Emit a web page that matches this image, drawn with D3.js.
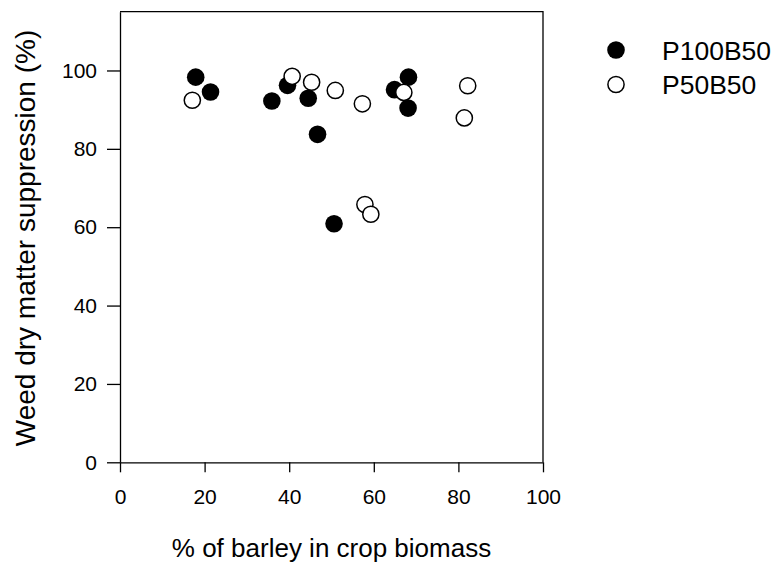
<html>
<head>
<style>
  body { margin: 0; background: #fff; }
  text { font-family: "Liberation Sans", Arial, sans-serif; fill: #000; }
  .axis path, .axis line { stroke: #000; stroke-width: 1.3px; }
</style>
</head>
<body>
<svg width="774" height="572"></svg>
<script src="https://d3js.org/d3.v7.min.js"></script>
<script>
// data
var p100x = [17.9, 21.4, 35.9, 39.6, 44.5, 46.7, 50.6, 64.9, 68.2, 68.1];
var p100y = [98.3, 94.5, 92.2, 96.2, 92.9, 83.7, 60.9, 95.1, 98.3, 90.4];
var p50x = [17.1, 40.7, 45.3, 50.9, 57.3, 57.9, 59.3, 67.1, 82.2, 81.4];
var p50y = [92.4, 98.5, 97.0, 94.9, 91.5, 65.8, 63.3, 94.4, 96.1, 87.9];
var seriesNames = ["P100B50", "P50B50"];
var xTicks = [0, 20, 40, 60, 80, 100];
var yTicks = [0, 20, 40, 60, 80, 100];

var svg = d3.select("svg");
var margin = {left: 120, top: 11.7, right: 231, bottom: 109.7};
var w = 774 - margin.left - margin.right,
    h = 572 - margin.top - margin.bottom;

var x = d3.scaleLinear().domain([0, 100]).range([0, w]);
var y = d3.scaleLinear().domain([0, 115]).range([h, 0]);

var g = svg.append("g").attr("transform", "translate(" + margin.left + "," + margin.top + ")");

// frame top and right
g.append("path")
  .attr("d", "M0,0H" + w + "V" + h)
  .attr("fill", "none").attr("stroke", "#000").attr("stroke-width", 1.3);

var xAxis = g.append("g").attr("class", "axis")
  .attr("transform", "translate(0," + h + ")")
  .call(d3.axisBottom(x).tickValues(xTicks).tickSize(10).tickSizeOuter(0).tickPadding(17));
xAxis.selectAll("text").style("font-size", "21px");

var yAxis = g.append("g").attr("class", "axis")
  .call(d3.axisLeft(y).tickValues(yTicks).tickSize(13).tickSizeOuter(0).tickPadding(10));
yAxis.selectAll("text").style("font-size", "21px");

// points
var filled = p100x.map(function(d, i) { return {x: d, y: p100y[i]}; });
var open = p50x.map(function(d, i) { return {x: d, y: p50y[i]}; });

g.selectAll(".p100").data(filled).enter().append("circle")
  .attr("class", "p100")
  .attr("cx", function(d) { return x(d.x); })
  .attr("cy", function(d) { return y(d.y); })
  .attr("r", 8.8)
  .attr("fill", "#000");

g.selectAll(".p50").data(open).enter().append("circle")
  .attr("class", "p50")
  .attr("cx", function(d) { return x(d.x); })
  .attr("cy", function(d) { return y(d.y); })
  .attr("r", 8.1)
  .attr("fill", "#fff")
  .attr("stroke", "#000")
  .attr("stroke-width", 1.5);

// axis titles
svg.append("text")
  .attr("x", margin.left + w / 2).attr("y", 557)
  .attr("text-anchor", "middle")
  .style("font-size", "26px")
  .text("% of barley in crop biomass");

svg.append("text")
  .attr("transform", "translate(35," + 238 + ") rotate(-90)")
  .attr("text-anchor", "middle")
  .style("font-size", "28px")
  .text("Weed dry matter suppression (%)");

// legend
var leg = svg.selectAll(".leg").data(seriesNames).enter().append("g")
  .attr("class", "leg")
  .attr("transform", function(d, i) { return "translate(616," + (50 + i * 34.5) + ")"; });
leg.append("circle")
  .attr("r", function(d, i) { return i == 0 ? 8.8 : 8.1; })
  .attr("fill", function(d, i) { return i == 0 ? "#000" : "#fff"; })
  .attr("stroke", "#000")
  .attr("stroke-width", function(d, i) { return i == 0 ? 0 : 1.5; });
leg.append("text")
  .attr("x", 46).attr("dy", "0.36em")
  .style("font-size", "26.5px")
  .text(function(d) { return d; });
</script>
</body>
</html>
